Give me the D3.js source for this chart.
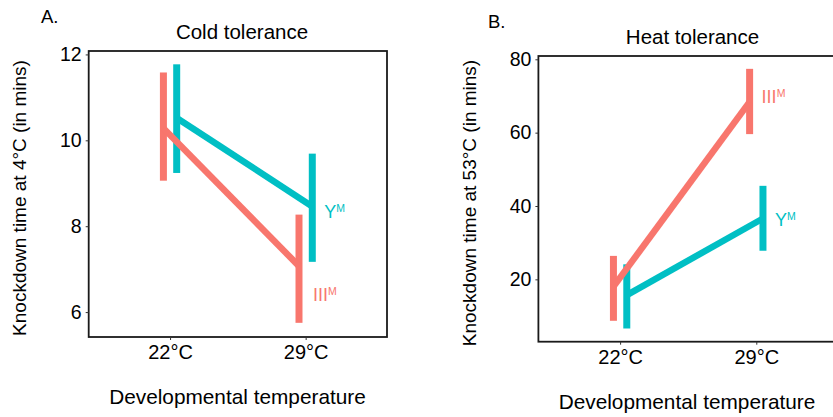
<!DOCTYPE html>
<html>
<head>
<meta charset="utf-8">
<script src="https://cdn.jsdelivr.net/npm/d3@7"></script>
<style>
  html, body { margin: 0; padding: 0; background: #fff; }
  svg { display: block; }
  text { font-family: "Liberation Sans", Arial, Helvetica, sans-serif; fill: #000; }
</style>
</head>
<body>
<svg id="chart" width="833" height="417"></svg>
<script>
// ---- data ----
const temps = ["22°C", "29°C"];
const groupNames = ["III", "Y"];
const groupColors = ["#F8766D", "#00BFC4"];

const coldIIIMean = [10.28, 7.07];
const coldIIILow  = [9.06, 5.75];
const coldIIIHigh = [11.58, 8.27];
const coldYMean   = [10.52, 8.46];
const coldYLow    = [9.24, 7.17];
const coldYHigh   = [11.77, 9.69];

const heatIIIMean = [18.0, 68.4];
const heatIIILow  = [8.7, 59.6];
const heatIIIHigh = [26.4, 77.4];
const heatYMean   = [15.7, 36.6];
const heatYLow    = [6.6, 27.8];
const heatYHigh   = [24.1, 45.5];

const coldTicks = [6, 8, 10, 12];
const heatTicks = [20, 40, 60, 80];

const FONT = "Liberation Sans, Arial, Helvetica, sans-serif";
const svg = d3.select("#chart");

function panel(opts) {
  const g = svg.append("g");
  const x = d3.scalePoint().domain(temps).range([opts.left, opts.right]).padding(0.6);
  const y = d3.scaleLinear().domain(opts.domain).range([opts.bottom, opts.top]);
  const dodge = x.step() * 0.049;

  const series = opts.series.map((s, i) => ({
    name: groupNames[i], color: groupColors[i], off: i === 0 ? -dodge : dodge,
    pts: temps.map((t, j) => ({t, m: s.mean[j], lo: s.low[j], hi: s.high[j]}))
  }));

  // error bars
  series.forEach(s => {
    g.selectAll(null).data(s.pts).enter().append("line")
      .attr("x1", d => x(d.t) + s.off).attr("x2", d => x(d.t) + s.off)
      .attr("y1", d => y(d.lo)).attr("y2", d => y(d.hi))
      .attr("stroke", s.color).attr("stroke-width", 7);
  });
  // lines
  const line = d3.line();
  series.forEach(s => {
    g.append("path")
      .attr("d", line(s.pts.map(d => [x(d.t) + s.off, y(d.m)])))
      .attr("fill", "none").attr("stroke", s.color).attr("stroke-width", 6.5);
  });

  // labels at the 29°C end
  series.forEach((s, i) => {
    const last = s.pts[1];
    const lx = x(last.t) + s.off + opts.labelDx[i];
    const ly = y(last.m) + opts.labelDy[i];
    const t = g.append("text").attr("x", lx).attr("y", ly)
      .style("font-size", "18px").style("fill", s.color);
    t.append("tspan").text(s.name);
    t.append("tspan").attr("dy", -6).style("font-size", "10.5px").text("M");
  });

  // box
  g.append("rect")
    .attr("x", opts.left).attr("y", opts.top)
    .attr("width", opts.right - opts.left).attr("height", opts.bottom - opts.top)
    .attr("fill", "none").attr("stroke", "#1a1a1a").attr("stroke-width", 1.8);

  // axes
  const yAxis = d3.axisLeft(y).tickValues(opts.ticks).tickFormat(d3.format("d")).tickSize(3).tickPadding(4);
  const ya = g.append("g").attr("transform", `translate(${opts.left},0)`).call(yAxis);
  ya.select(".domain").remove();
  ya.selectAll(".tick line").attr("stroke", "#333").attr("stroke-width", 1);
  ya.selectAll(".tick text").style("font-size", "19.5px").style("font-family", FONT).attr("fill", "#000");

  const xAxis = d3.axisBottom(x).tickSize(3).tickPadding(5);
  const xa = g.append("g").attr("transform", `translate(0,${opts.bottom})`).call(xAxis);
  xa.select(".domain").remove();
  xa.selectAll(".tick line").attr("stroke", "#333").attr("stroke-width", 1);
  xa.selectAll(".tick text").style("font-size", "20px").style("font-family", FONT).attr("fill", "#000");

  // titles
  const cx = (opts.left + opts.right) / 2;
  g.append("text").attr("x", opts.titleX).attr("y", opts.top - 12)
    .attr("text-anchor", "middle").style("font-size", "20.5px").text(opts.title);
  g.append("text").attr("x", opts.tagX).attr("y", opts.top - 28)
    .style("font-size", "18.5px").text(opts.tag);
  g.append("text").attr("x", opts.xTitleX).attr("y", opts.bottom + 67)
    .attr("text-anchor", "middle").style("font-size", "20.8px").text("Developmental temperature");
  g.append("text")
    .attr("transform", `translate(${opts.yTitleX},${opts.yTitleY}) rotate(-90)`)
    .attr("text-anchor", "middle").style("font-size", "19px").text(opts.yTitle);
}

panel({
  left: 88.7, right: 387, top: 51, bottom: 337,
  domain: [5.42, 12.08], ticks: coldTicks,
  series: [
    {mean: coldIIIMean, low: coldIIILow, high: coldIIIHigh},
    {mean: coldYMean, low: coldYLow, high: coldYHigh}
  ],
  labelDx: [14, 12], labelDy: [35, 12],
  title: "Cold tolerance", titleX: 242, tag: "A.", tagX: 41,
  xTitleX: 237.5,
  yTitle: "Knockdown time at 4°C (in mins)", yTitleX: 26, yTitleY: 198
});

panel({
  left: 538.4, right: 838, top: 56, bottom: 341.7,
  domain: [3.0, 80.9], ticks: heatTicks,
  series: [
    {mean: heatIIIMean, low: heatIIILow, high: heatIIIHigh},
    {mean: heatYMean, low: heatYLow, high: heatYHigh}
  ],
  labelDx: [12, 12], labelDy: [1, 8],
  title: "Heat tolerance", titleX: 692.5, tag: "B.", tagX: 488,
  xTitleX: 687,
  yTitle: "Knockdown time at 53°C (in mins)", yTitleX: 476, yTitleY: 203
});
</script>
</body>
</html>
